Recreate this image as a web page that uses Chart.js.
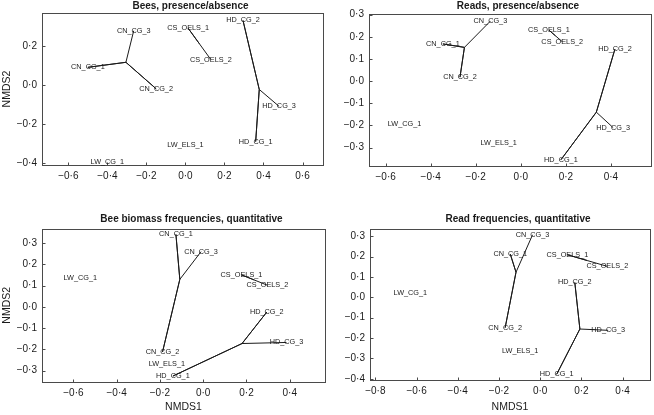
<!DOCTYPE html>
<html>
<head>
<meta charset="utf-8">
<title>NMDS ordinations</title>
<script src="https://cdn.jsdelivr.net/npm/chart.js@4.4.1/dist/chart.umd.min.js"></script>
<style>
  html, body { margin: 0; padding: 0; background: #fff; }
  body { width: 654px; height: 415px; position: relative; overflow: hidden; }
  .panel { position: absolute; }
</style>
</head>
<body>
<div class="panel" style="left:0px;top:0px;width:327px;height:199px"><canvas id="c1"></canvas></div>
<div class="panel" style="left:327px;top:0px;width:327px;height:200px"><canvas id="c2"></canvas></div>
<div class="panel" style="left:0px;top:210px;width:328px;height:205px"><canvas id="c3"></canvas></div>
<div class="panel" style="left:328px;top:210px;width:326px;height:205px"><canvas id="c4"></canvas></div>
<script>
// site labels, same order in every panel
const sites = ['CN_CG_1', 'CN_CG_2', 'CN_CG_3', 'CS_OELS_1', 'CS_OELS_2',
               'HD_CG_1', 'HD_CG_2', 'HD_CG_3', 'LW_CG_1', 'LW_ELS_1'];

// NMDS scores
const beesPaX = [-0.50, -0.15, -0.265, 0.014, 0.13, 0.36, 0.295, 0.48, -0.40, 0.0];
const beesPaY = [0.09, -0.02, 0.277, 0.29, 0.13, -0.29, 0.33, -0.11, -0.395, -0.31];

const readsPaX = [-0.346, -0.27, -0.135, 0.125, 0.184, 0.178, 0.418, 0.41, -0.516, -0.098];
const readsPaY = [0.168, 0.018, 0.271, 0.23, 0.178, -0.355, 0.145, -0.21, -0.193, -0.277];

const beeBiomassX = [-0.126, -0.188, -0.01, 0.177, 0.297, -0.14, 0.294, 0.385, -0.568, -0.168];
const beeBiomassY = [0.341, -0.212, 0.26, 0.151, 0.102, -0.325, -0.024, -0.167, 0.137, -0.267];

const readFreqX = [-0.145, -0.17, -0.037, 0.132, 0.326, 0.08, 0.168, 0.33, -0.63, -0.097];
const readFreqY = [0.212, -0.149, 0.307, 0.209, 0.152, -0.378, 0.073, -0.162, 0.021, -0.265];

const panelTitles = ['Bees, presence/absence', 'Reads, presence/absence',
                     'Bee biomass frequencies, quantitative', 'Read frequencies, quantitative'];

// tick values
const beesPaXTicks = [-0.6, -0.4, -0.2, 0, 0.2, 0.4, 0.6];
const beesPaYTicks = [-0.4, -0.2, 0, 0.2];
const readsPaXTicks = [-0.6, -0.4, -0.2, 0, 0.2, 0.4];
const readsPaYTicks = [-0.3, -0.2, -0.1, 0, 0.1, 0.2, 0.3];
const beeBiomassXTicks = [-0.6, -0.4, -0.2, 0, 0.2, 0.4];
const beeBiomassYTicks = [-0.3, -0.2, -0.1, 0, 0.1, 0.2, 0.3];
const readFreqXTicks = [-0.8, -0.6, -0.4, -0.2, 0, 0.2, 0.4];
const readFreqYTicks = [-0.4, -0.3, -0.2, -0.1, 0, 0.1, 0.2, 0.3];

Chart.defaults.font.family = '"Liberation Sans", Arial, Helvetica, sans-serif';
Chart.defaults.color = '#1a1a1a';

function fmtTick(v) {
  const s = Math.abs(v) < 1e-9 ? '0.0' : v.toFixed(1);
  return s.replace('-', '\u2212').replace('.', '\u00b7');
}

// box, inward tick marks, site labels and panel title
const nmdsDecor = {
  id: 'nmdsDecor',
  afterDatasetsDraw(chart, args, opts) {
    const { ctx, chartArea: a, scales } = chart;
    const L = Math.round(a.left) + 0.5, R = Math.round(a.right) + 0.5;
    const T = Math.round(a.top) + 0.5, B = Math.round(a.bottom) + 0.5;
    ctx.save();
    ctx.strokeStyle = '#4a4a4a';
    ctx.lineWidth = 1;
    ctx.strokeRect(L, T, R - L, B - T);
    ctx.beginPath();
    scales.x.ticks.forEach(t => {
      const px = Math.round(scales.x.getPixelForValue(t.value)) + 0.5;
      ctx.moveTo(px, B); ctx.lineTo(px, B - 3);
    });
    scales.y.ticks.forEach(t => {
      const py = Math.round(scales.y.getPixelForValue(t.value)) + 0.5;
      ctx.moveTo(L, py); ctx.lineTo(L + 3, py);
    });
    ctx.stroke();

    // site names centred on their scores
    const meta = chart.getDatasetMeta(chart.data.datasets.length - 1);
    ctx.fillStyle = '#1a1a1a';
    ctx.font = '7.3px "Liberation Sans", Arial, sans-serif';
    ctx.textAlign = 'center';
    ctx.textBaseline = 'middle';
    meta.data.forEach((el, i) => ctx.fillText(sites[i], el.x, el.y));

    ctx.font = 'bold 10px "Liberation Sans", Arial, sans-serif';
    ctx.fillText(opts.title, (a.left + a.right) / 2 + 8, a.top - opts.titleGap);
    ctx.restore();
  }
};

// one polyline per group: centroid -> member -> centroid -> member ...
function spiderSets(xs, ys) {
  const groups = {};
  sites.forEach((s, i) => {
    const g = s.replace(/_\d+$/, '');
    (groups[g] = groups[g] || []).push({ x: xs[i], y: ys[i] });
  });
  const sets = [];
  Object.values(groups).forEach(pts => {
    if (pts.length < 2) return;
    const c = {
      x: pts.reduce((s, p) => s + p.x, 0) / pts.length,
      y: pts.reduce((s, p) => s + p.y, 0) / pts.length
    };
    const data = [];
    pts.forEach(p => { data.push(c, p); });
    sets.push({ data: data, showLine: true, borderColor: '#1a1a1a', borderWidth: 1,
                pointRadius: 0, fill: false, tension: 0 });
  });
  return sets;
}

function drawPanel(id, p) {
  const datasets = spiderSets(p.xs, p.ys);
  datasets.push({ data: p.xs.map((x, i) => ({ x: x, y: p.ys[i] })), pointRadius: 0, showLine: false });
  return new Chart(document.getElementById(id), {
    type: 'scatter',
    data: { datasets: datasets },
    plugins: [nmdsDecor],
    options: {
      responsive: true,
      maintainAspectRatio: false,
      animation: false,
      layout: { padding: { top: p.padTop, right: p.padRight, left: 0, bottom: 0 } },
      plugins: {
        legend: { display: false },
        tooltip: { enabled: false },
        nmdsDecor: { title: p.title, titleGap: p.titleGap }
      },
      scales: {
        x: {
          type: 'linear', min: p.xMin, max: p.xMax,
          grid: { display: false, drawTicks: false },
          border: { display: false },
          ticks: { padding: 5, autoSkip: false, maxRotation: 0, font: { size: 10 }, callback: fmtTick },
          afterBuildTicks: s => { s.ticks = p.xTicks.map(v => ({ value: v })); },
          afterFit: s => { s.height = p.xAxisH; },
          title: { display: p.xTitle, text: 'NMDS1', font: { size: 10.5 }, padding: { top: 0, bottom: 2 } }
        },
        y: {
          type: 'linear', min: p.yMin, max: p.yMax,
          grid: { display: false, drawTicks: false },
          border: { display: false },
          ticks: { padding: 5, autoSkip: false, font: { size: 10 }, callback: fmtTick },
          afterBuildTicks: s => { s.ticks = p.yTicks.map(v => ({ value: v })); },
          afterFit: s => { s.width = 42; },
          title: { display: p.yTitle, text: 'NMDS2', font: { size: 10.5 }, padding: { top: 1, bottom: 0 } }
        }
      }
    }
  });
}

drawPanel('c1', { xs: beesPaX, ys: beesPaY, title: panelTitles[0], xTicks: beesPaXTicks, yTicks: beesPaYTicks,
  xMin: -0.735, xMax: 0.705, yMin: -0.41, yMax: 0.368, padTop: 13, padRight: 4, xAxisH: 34, titleGap: 7,
  xTitle: false, yTitle: true });
drawPanel('c2', { xs: readsPaX, ys: readsPaY, title: panelTitles[1], xTicks: readsPaXTicks, yTicks: readsPaYTicks,
  xMin: -0.674, xMax: 0.578, yMin: -0.383, yMax: 0.303, padTop: 14, padRight: 3, xAxisH: 34, titleGap: 8,
  xTitle: false, yTitle: false });
drawPanel('c3', { xs: beeBiomassX, ys: beeBiomassY, title: panelTitles[2], xTicks: beeBiomassXTicks, yTicks: beeBiomassYTicks,
  xMin: -0.745, xMax: 0.563, yMin: -0.353, yMax: 0.369, padTop: 18.5, padRight: 3, xAxisH: 33, titleGap: 9,
  xTitle: true, yTitle: true });
drawPanel('c4', { xs: readFreqX, ys: readFreqY, title: panelTitles[3], xTicks: readFreqXTicks, yTicks: readFreqYTicks,
  xMin: -0.826, xMax: 0.533, yMin: -0.406, yMax: 0.338, padTop: 18.5, padRight: 4, xAxisH: 35, titleGap: 9,
  xTitle: true, yTitle: false });
</script>
</body>
</html>
